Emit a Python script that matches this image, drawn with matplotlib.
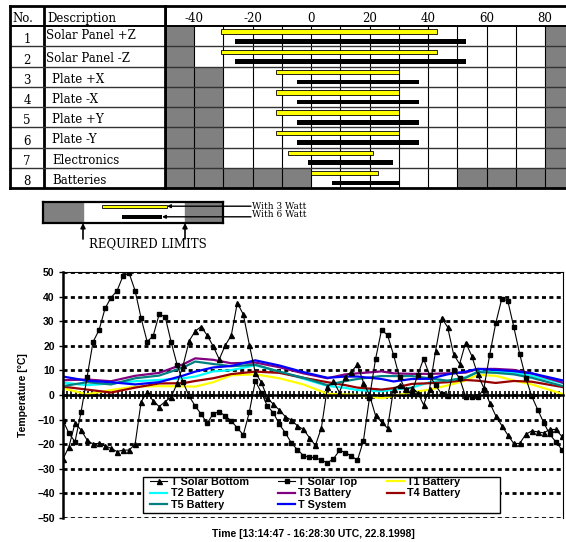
import matplotlib
matplotlib.use("Agg")
import matplotlib.pyplot as plt
import matplotlib.ticker as ticker
from matplotlib.patches import Rectangle
import numpy as np

W, H = 566, 542

# ---- component table: temperature ranges in degC ----
COMPONENTS = ["Solar Panel +Z", "Solar Panel -Z", "Plate +X", "Plate -X",
              "Plate +Y", "Plate -Y", "Electronics", "Batteries"]
LIMIT_LO = [-40, -40, -30, -30, -30, -30, -30, 0]
LIMIT_HI = [80, 80, 80, 80, 80, 80, 80, 50]
W3_LO = [-31, -31, -12, -12, -12, -12, -8, 0]
W3_HI = [43, 43, 30, 30, 30, 30, 21, 23]
W6_LO = [-26, -26, -5, -5, -5, -5, -1, 7]
W6_HI = [53, 53, 37, 37, 37, 37, 28, 30]
HEADER_TEMPS = [-40, -20, 0, 20, 40, 60, 80]

# ---- measured temperatures (sample index on x) ----
SOLAR_BOTTOM = [-26.0, -21.0, -11.4, -14.2, -18.3, -20.0, -19.6, -20.6, -21.7, -23.0,
                -22.4, -22.4, -20.0, -2.8, 1.2, -2.4, -4.7, -2.7, -0.8, 4.7,
                12.2, 22.0, 26.0, 27.8, 24.2, 19.8, 14.5, 20.2, 24.2, 37.4,
                32.8, 20.5, 9.0, 5.2, -1.1, -3.8, -6.1, -8.8, -10.2, -12.5,
                -14.0, -17.3, -20.5, -13.3, 3.2, 5.6, 1.0, 7.5, 9.5, 12.4,
                5.0, 0.0, -8.3, -11.0, -13.5, 2.3, 4.0, 2.5, 3.0, 1.0,
                -4.0, 2.6, 17.9, 31.4, 27.6, 16.5, 12.6, 21.3, 16.0, 8.4,
                3.0, -3.1, -8.4, -12.4, -16.2, -19.7, -19.7, -16.0, -14.6, -15.0,
                -15.4, -14.0, -14.0, -16.8]
SOLAR_TOP = [-10.4, -15.6, -19.0, -7.0, 7.2, 21.6, 26.4, 35.2, 39.6, 42.4,
             48.5, 49.5, 42.4, 31.2, 21.7, 24.0, 32.8, 31.8, 21.5, 12.2,
             5.1, -0.5, -4.5, -7.8, -11.5, -7.6, -6.8, -8.5, -10.5, -13.4,
             -16.2, -7.0, 5.7, 1.0, -4.5, -7.2, -11.9, -15.4, -19.5, -22.2,
             -24.6, -25.4, -25.4, -26.6, -27.5, -26.0, -22.5, -23.4, -24.9, -26.5,
             -18.5, -1.1, 14.5, 26.4, 24.4, 16.3, 7.2, 2.0, 0.5, 8.0,
             14.7, 8.1, 3.9, 0.4, -0.4, 10.2, 6.8, -0.7, -0.7, -0.7,
             2.2, 16.3, 29.1, 39.0, 38.4, 27.8, 16.6, 7.0, -0.5, -6.0,
             -11.3, -16.0, -19.0, -22.2]

BATT_X = [0, 4, 8, 12, 16, 20, 22, 25, 28, 32, 36, 40, 44, 47, 49, 53, 55,
          58, 61, 64, 67, 69, 72, 75, 78, 83.2]
T1_BATT = [2.7, 0.3, 2.0, 3.4, 3.6, 3.5, 3.4, 5.2, 8.0, 8.4, 6.8, 4.3, 0.5,
           0.2, 0.0, -1.3, -0.4, 1.1, 2.2, 3.9, 5.9, 8.2, 7.8, 5.9, 4.3, 0.4]
T2_BATT = [5.0, 4.0, 4.7, 5.6, 6.1, 6.8, 7.5, 9.6, 10.1, 12.1, 9.5, 6.6, 3.7,
           2.9, 2.0, 1.5, 2.2, 3.0, 5.2, 5.8, 7.2, 9.5, 9.5, 9.1, 7.8, 4.8]
T3_BATT = [6.0, 6.3, 5.6, 7.8, 9.0, 12.5, 14.9, 14.3, 12.9, 13.2, 11.3, 8.8, 6.8,
           8.4, 8.8, 9.6, 8.8, 8.6, 8.6, 8.8, 9.1, 10.6, 10.6, 10.2, 8.8, 5.0]
T4_BATT = [3.4, 2.2, 1.0, 3.0, 4.7, 4.8, 5.7, 6.8, 8.5, 9.5, 9.0, 7.0, 5.2,
           4.0, 3.0, 2.2, 2.8, 4.5, 4.8, 5.2, 6.1, 5.8, 4.9, 5.7, 5.4, 3.2]
T5_BATT = [3.6, 5.2, 4.3, 6.8, 7.9, 11.2, 13.6, 12.6, 11.7, 12.3, 9.5, 7.0, 4.0,
           5.7, 6.5, 7.7, 7.7, 7.7, 6.8, 5.8, 7.0, 9.3, 9.0, 8.4, 7.0, 3.6]
T_SYSTEM = [7.5, 5.8, 5.2, 4.3, 5.2, 7.9, 9.5, 11.2, 11.8, 14.1, 12.0, 9.3, 7.0,
            7.5, 7.5, 6.5, 5.5, 6.5, 6.6, 8.4, 9.5, 10.6, 10.2, 9.7, 8.8, 5.9]

plt.rcParams.update({
    "font.family": ["Liberation Sans", "DejaVu Sans"],
    "font.weight": "bold",
    "font.size": 7.5,
})
SERIF = "DejaVu Serif"

fig = plt.figure(figsize=(W / 100, H / 100), dpi=100)

# ------------------------------------------------------------------ table
rows = np.arange(len(COMPONENTS)) + 1
tab = fig.add_axes([165 / W, 1 - 188 / H, 401 / W, 182 / H])
tab.set_xlim(-50, 87.2)
tab.set_ylim(9, 0)
lo = np.array(LIMIT_LO)
hi = np.array(LIMIT_HI)
tab.barh(rows + 0.5, lo + 50, left=-50, height=1, color="#808080", zorder=1)
tab.barh(rows + 0.5, 100 - hi, left=hi, height=1, color="#808080", zorder=1)
tab.vlines(np.arange(-40, 90, 10), 1, 9, colors="black", lw=0.8, zorder=2)
tab.hlines(np.arange(2, 9), -50, 90, colors="#333333", lw=1.0, zorder=2)
tab.hlines(1, -50, 90, colors="black", lw=1.4, zorder=2)
tab.barh(rows + 0.27, np.array(W3_HI) - np.array(W3_LO), left=W3_LO, height=0.22,
         color="#FFFF00", edgecolor="black", lw=0.6, zorder=3)
tab.barh(rows + 0.75, np.array(W6_HI) - np.array(W6_LO), left=W6_LO, height=0.23,
         color="black", zorder=3)
for t in HEADER_TEMPS:
    tab.text(t, 0.6, f"{t}", ha="center", va="center", family=SERIF,
             fontweight="normal", fontsize=8.5)
tab.set_xticks([])
tab.set_yticks([])
for side in ["top", "bottom", "left"]:
    tab.spines[side].set_linewidth(2.0)
tab.spines["right"].set_visible(False)

lab = fig.add_axes([10 / W, 1 - 188 / H, 155 / W, 182 / H])
lab.set_xlim(0, 155)
lab.set_ylim(9, 0)
lab.axvline(34, color="black", lw=2.0)
lab.hlines(np.arange(2, 9), 0, 155, colors="#333333", lw=1.0)
lab.hlines(1, 0, 155, colors="black", lw=1.4)
lab.text(2, 0.62, "No.", ha="left", va="center", family=SERIF,
         fontweight="normal", fontsize=8.5)
lab.text(37, 0.62, "Description", ha="left", va="center", family=SERIF,
         fontweight="normal", fontsize=8.5)
for r, name in zip(rows, COMPONENTS):
    lab.text(17, r + 0.68, f"{r}", ha="center", va="center", family=SERIF,
             fontweight="normal", fontsize=8.5)
    dy = 0.45 if r == 1 else 0.62
    x0 = 36 if name.startswith("Solar") else 42
    lab.text(x0, r + dy, name, ha="left", va="center", family=SERIF,
             fontweight="normal", fontsize=8.5)
lab.set_xticks([])
lab.set_yticks([])
for side in lab.spines:
    lab.spines[side].set_linewidth(2.0)

# ------------------------------------------------------------------ key
key = fig.add_axes([43 / W, 1 - 223 / H, 180 / W, 21 / H])
key.set_xlim(0, 180)
key.set_ylim(21, 0)
key.axvspan(0, 40, color="#808080")
key.axvspan(142, 180, color="#808080")
key.barh(4.7, 65, left=59, height=3.2, color="#FFFF00", edgecolor="black", lw=0.6)
key.barh(15.0, 40, left=79, height=4.2, color="black")
key.annotate("", xy=(124, 4.2), xytext=(208, 4.2), annotation_clip=False,
             arrowprops=dict(arrowstyle="-|>", color="black", lw=1.0,
                             mutation_scale=5, shrinkA=0, shrinkB=0))
key.annotate("", xy=(119, 14.8), xytext=(208, 14.8), annotation_clip=False,
             arrowprops=dict(arrowstyle="-|>", color="black", lw=1.0,
                             mutation_scale=5, shrinkA=0, shrinkB=0))
key.text(209, 4.6, "With 3 Watt", ha="left", va="center", family=SERIF,
         fontweight="normal", fontsize=6.5, clip_on=False)
key.text(209, 12.8, "With 6 Watt", ha="left", va="center", family=SERIF,
         fontweight="normal", fontsize=6.5, clip_on=False)
for xa in (40, 142):
    key.annotate("", xy=(xa, 21), xytext=(xa, 37), annotation_clip=False,
                 arrowprops=dict(arrowstyle="-|>", color="black", lw=1.2,
                                 mutation_scale=7, shrinkA=0, shrinkB=0))
key.text(105, 41.5, "REQUIRED LIMITS", ha="center", va="center", family=SERIF,
         fontweight="normal", fontsize=8.5, clip_on=False)
key.set_xticks([])
key.set_yticks([])
for side in key.spines:
    key.spines[side].set_linewidth(1.6)

# ------------------------------------------------------------------ plot
ax = fig.add_axes([63 / W, 1 - 518 / H, 500 / W, 246 / H])
x = np.arange(len(SOLAR_TOP))
ax.plot(x, SOLAR_BOTTOM, color="black", lw=0.8, marker="^", ms=3.6,
        label="T Solar Bottom", zorder=3)
ax.plot(x, SOLAR_TOP, color="black", lw=0.8, marker="s", ms=3.2,
        label="T Solar Top", zorder=3)
batteries = [
    ("T1 Battery", T1_BATT, "#FFFF00"),
    ("T2 Battery", T2_BATT, "#00FFFF"),
    ("T3 Battery", T3_BATT, "#800080"),
    ("T4 Battery", T4_BATT, "#990000"),
    ("T5 Battery", T5_BATT, "#008080"),
    ("T System", T_SYSTEM, "#0000FF"),
]
for name, vals, col in batteries:
    ax.plot(BATT_X, vals, color=col, lw=1.6, label=name, zorder=2)

ax.set_xlim(0, 83.2)
ax.set_ylim(-50, 50)
ax.yaxis.set_major_locator(ticker.MultipleLocator(10))
ax.xaxis.set_major_locator(ticker.MultipleLocator(0.7))
ax.grid(axis="y", color="black", lw=2.0, linestyle=(0, (1.45, 1.2)))
ax.set_axisbelow(True)

ax.spines["bottom"].set_position(("data", 0))
ax.spines["bottom"].set_linewidth(1.8)
ax.spines["left"].set_linewidth(1.8)
ax.spines["right"].set_linewidth(0.8)
ax.spines["top"].set_linewidth(0.8)
ax.axhline(-50, color="black", lw=0.8, zorder=1)
ax.tick_params(axis="x", direction="inout", length=6, width=1.2, labelbottom=False)
ax.tick_params(axis="y", direction="out", length=3, width=1.0, pad=3,
               labelsize=7.5)

ax.set_xlabel("Time [13:14:47 - 16:28:30 UTC, 22.8.1998]", fontsize=7.5,
              fontweight="bold")
ax.xaxis.set_label_coords(0.5, -0.045)
ax.set_ylabel("Temperature [°C]", fontsize=7.5, fontweight="bold")
ax.yaxis.set_label_coords(-0.07, 0.5)

handles = {ln.get_label(): ln for ln in ax.get_lines()}
order = ["T Solar Bottom", "T2 Battery", "T5 Battery",
         "T Solar Top", "T3 Battery", "T System",
         "T1 Battery", "T4 Battery"]
ax.add_patch(Rectangle((143 / W, 1 - 513 / H), 357 / W, 36 / H,
                       transform=fig.transFigure, facecolor="white",
                       edgecolor="black", lw=1.0, zorder=4, clip_on=False))
leg = ax.legend([handles[k] for k in order], order, ncol=3, frameon=False,
                loc="upper left", bbox_to_anchor=(150 / W, 1 - 477 / H),
                bbox_transform=fig.transFigure, fontsize=7.8,
                handlelength=1.6, handletextpad=0.3, columnspacing=2.7,
                labelspacing=0.12, borderpad=0, borderaxespad=0)
leg.set_zorder(5)

fig.savefig("out.png", dpi=100, facecolor="white")
